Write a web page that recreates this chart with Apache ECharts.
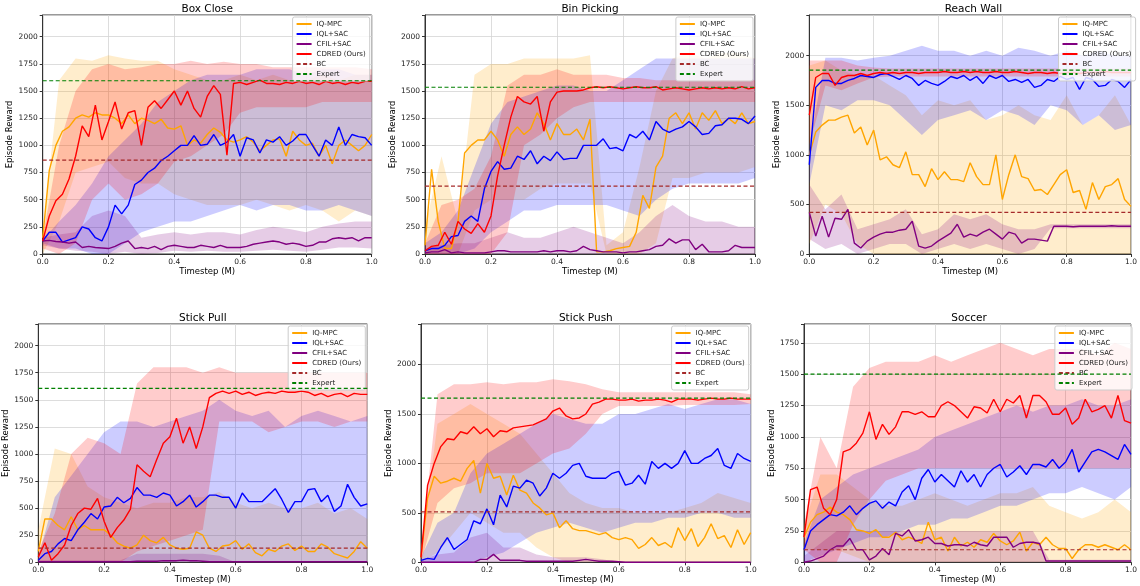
<!DOCTYPE html>
<html><head><meta charset="utf-8">
<script src="https://cdn.jsdelivr.net/npm/echarts@6/dist/echarts.min.js"></script>
<style>html,body{margin:0;padding:0;background:#fff}#chart{width:1140px;height:586px}</style>
</head><body><div id="chart"></div>
<script>
// ---------- DATA ----------
const T = [0,0.02,0.04,0.06,0.08,0.1,0.12,0.14,0.16,0.18,0.2,0.22,0.24,0.26,0.28,0.3,0.32,0.34,0.36,0.38,0.4,0.42,0.44,0.46,0.48,0.5,0.52,0.54,0.56,0.58,0.6,0.62,0.64,0.66,0.68,0.7,0.72,0.74,0.76,0.78,0.8,0.82,0.84,0.86,0.88,0.9,0.92,0.94,0.96,0.98,1];
const TB = [0,0.05,0.1,0.15,0.2,0.25,0.3,0.35,0.4,0.45,0.5,0.55,0.6,0.65,0.7,0.75,0.8,0.85,0.9,0.95,1];
const SERIES_NAMES = ['IQ-MPC','IQL+SAC','CFIL+SAC','CDRED (Ours)'];
const REF_NAMES = ['BC','Expert'];
const TITLES = ['Box Close','Bin Picking','Reach Wall','Stick Pull','Stick Push','Soccer'];
const BC_VALUES = [865,625,420,130,510,100];
const EXPERT_VALUES = [1595,1535,1855,1605,1660,1500];
const Z21 = [0,0,0,0,0,0,0,0,0,0,0,0,0,0,0,0,0,0,0,0,0];

// Box Close
const BOX_IQMPC = [150,770,1000,1130,1170,1250,1280,1260,1300,1280,1280,1250,1200,1280,1200,1250,1230,1200,1240,1160,1150,1180,1000,1050,1020,1100,1160,1120,1050,1030,1050,1080,1030,950,1000,1050,1060,900,1130,1050,1000,1020,900,1000,830,1000,1050,1000,950,1000,1100];
const BOX_IQLSAC = [120,200,200,110,130,150,250,230,150,120,250,450,370,450,640,680,750,790,860,900,950,1000,1000,1090,1000,1010,1100,1000,1030,1100,900,1070,1050,930,1050,1030,1080,1000,1040,1100,1100,1000,900,1050,1000,1170,1000,1100,1080,1070,1000];
const BOX_CFIL = [120,125,115,110,100,110,60,70,60,55,50,70,100,120,50,60,50,70,40,70,80,70,60,60,80,70,60,80,60,60,60,70,90,100,110,120,110,90,100,90,70,80,110,110,140,150,140,150,120,150,150];
const BOX_CDRED = [120,350,490,550,690,900,1180,1080,1370,1050,1220,1400,1150,1300,1320,1000,1350,1410,1340,1420,1500,1370,1500,1340,1260,1450,1550,1470,910,1570,1580,1560,1580,1600,1570,1570,1560,1580,1570,1590,1570,1580,1560,1590,1570,1580,1560,1580,1570,1590,1590];
const BOX_IQMPC_LO = [0,300,750,800,850,700,650,650,550,500,450,450,450,500,450,400,450,400,300,400,350];
const BOX_IQMPC_HI = [200,1600,1800,1780,1830,1800,1780,1780,1700,1650,1600,1600,1650,1600,1650,1600,1600,1650,1600,1650,1650];
const BOX_IQLSAC_LO = [100,50,50,0,0,100,200,250,300,300,350,400,450,400,450,450,400,400,450,400,350];
const BOX_IQLSAC_HI = [130,300,450,650,900,1050,1200,1400,1500,1600,1650,1650,1650,1700,1700,1700,1650,1700,1700,1650,1650];
const BOX_CFIL_LO = [80,50,30,20,0,20,0,10,30,20,30,20,20,30,40,30,20,40,60,60,50];
const BOX_CFIL_HI = [150,180,200,350,400,350,150,180,200,180,200,200,180,220,250,230,200,250,280,300,300];
const BOX_CDRED_LO = [50,0,100,500,650,500,550,650,850,900,1000,1100,1300,1350,1350,1350,1350,1400,1400,1400,1400];
const BOX_CDRED_HI = [150,1000,1500,1700,1750,1700,1720,1750,1750,1780,1750,1770,1750,1750,1720,1720,1720,1720,1720,1720,1700];

// Bin Picking
const BIN_IQMPC = [80,780,300,50,50,300,930,1000,1050,1050,1130,1050,900,1100,1170,1100,1150,1300,1200,1050,1200,1100,1100,1150,1050,1240,20,20,30,50,60,70,200,540,420,800,900,1250,1300,1200,1300,1150,1300,1230,1320,1200,1250,1200,1300,1200,1220];
const BIN_IQLSAC = [30,50,50,80,160,170,300,350,300,600,760,850,780,790,900,870,950,830,900,860,940,870,880,880,1000,1000,1000,1060,970,980,950,1100,1070,1130,1050,1220,1150,1120,1150,1170,1220,1170,1100,1110,1180,1190,1250,1250,1240,1200,1270];
const BIN_CFIL = [10,20,20,40,10,20,10,10,10,10,20,30,30,20,20,20,20,20,30,20,30,30,20,30,70,40,30,20,20,20,10,20,20,30,40,70,80,140,100,130,130,40,90,20,20,20,30,80,60,60,60];
const BIN_CDRED = [30,70,80,200,90,300,230,190,280,200,350,720,1000,1260,1450,1400,1380,1450,1130,1400,1490,1500,1500,1500,1510,1530,1540,1530,1540,1530,1520,1530,1540,1530,1530,1540,1510,1520,1530,1520,1510,1520,1530,1520,1530,1520,1530,1520,1540,1520,1530];
const BIN_IQMPC_LO = [0,0,0,400,500,500,500,600,650,650,650,0,0,0,100,700,700,750,750,750,800];
const BIN_IQMPC_HI = [250,900,300,1650,1750,1750,1800,1800,1800,1800,1830,80,200,800,1500,1800,1850,1800,1850,1850,1800];
const BIN_IQLSAC_LO = [0,0,0,50,200,300,400,400,450,450,450,450,400,350,500,600,650,650,650,650,700];
const BIN_IQLSAC_HI = [100,200,400,800,1200,1400,1450,1500,1550,1550,1500,1500,1600,1700,1800,1800,1800,1800,1800,1800,1800];
const BIN_CFIL_LO = Z21;
const BIN_CFIL_HI = [50,80,100,100,150,200,150,150,200,250,200,150,100,200,350,450,350,300,300,250,250];
const BIN_CDRED_LO = [0,0,0,0,0,200,1000,1100,1250,1350,1400,1400,1400,1400,1400,1400,1400,1400,1400,1400,1400];
const BIN_CDRED_HI = [100,450,500,600,900,1550,1650,1650,1700,1650,1650,1650,1620,1620,1600,1600,1600,1600,1600,1600,1600];

// Reach Wall
const RW_IQMPC = [1000,1230,1300,1350,1350,1380,1400,1220,1280,1100,1250,950,980,900,870,1030,800,800,680,860,750,830,750,750,730,920,780,700,700,1000,550,800,1000,780,760,640,650,600,700,800,850,620,640,450,720,550,680,700,760,550,480];
const RW_IQLSAC = [900,1680,1750,1750,1720,1720,1750,1770,1800,1790,1780,1810,1820,1790,1760,1800,1770,1700,1750,1720,1700,1740,1790,1770,1800,1750,1790,1720,1800,1770,1800,1740,1760,1730,1760,1680,1700,1760,1740,1790,1760,1780,1660,1780,1760,1690,1700,1760,1740,1680,1760];
const RW_CFIL = [420,180,380,170,360,350,450,110,60,130,170,200,220,220,240,250,330,80,60,80,130,170,210,300,170,200,180,220,250,200,150,220,200,110,150,150,140,130,280,280,280,275,280,280,280,280,280,285,280,280,280];
const RW_CDRED = [1400,1780,1820,1820,1700,1780,1800,1800,1820,1800,1820,1830,1820,1830,1820,1830,1830,1820,1830,1830,1830,1840,1830,1830,1840,1830,1840,1830,1830,1840,1830,1830,1840,1830,1820,1830,1830,1820,1830,1820,1830,1830,1820,1830,1830,1830,1840,1830,1830,1830,1830];
const RW_IQMPC_LO = [100,500,400,100,0,0,0,0,0,0,0,0,0,0,0,0,0,0,0,0,0];
const RW_IQMPC_HI = [1900,1950,1850,1800,1800,1700,1600,1400,1550,1500,1550,1350,1400,1500,1400,1350,1600,1300,1400,1600,1300];
const RW_IQLSAC_LO = [700,1500,1450,1550,1550,1500,1350,1200,1350,1400,1450,1350,1450,1400,1300,1500,1450,1300,1400,1250,1300];
const RW_IQLSAC_HI = [1100,1980,1980,1950,1980,2000,2050,2100,2050,2050,2000,2050,2000,2080,2050,2000,2050,2000,2050,2000,2000];
const RW_CFIL_LO = [150,50,100,0,50,100,100,0,50,100,50,100,50,0,50,260,260,260,260,260,260];
const RW_CFIL_HI = [700,450,600,250,300,350,450,200,250,400,350,400,300,250,250,300,300,300,300,300,300];
const RW_CDRED_LO = [1100,1700,1650,1720,1780,1790,1790,1790,1790,1790,1790,1790,1790,1790,1790,1790,1790,1790,1790,1790,1790];
const RW_CDRED_HI = [1950,1950,1950,1900,1880,1870,1870,1870,1870,1870,1870,1870,1870,1870,1870,1870,1870,1870,1870,1870,1870];

// Stick Pull
const SP_IQMPC = [100,400,400,340,300,420,300,340,300,300,300,250,180,150,130,160,250,200,180,230,160,130,120,130,280,250,130,100,150,160,200,120,170,90,60,120,100,150,170,110,150,100,100,170,140,80,60,40,100,190,130];
const SP_IQLSAC = [20,80,100,170,220,200,300,370,450,400,510,520,600,550,590,690,620,620,600,640,620,520,560,620,510,560,620,620,600,600,500,640,560,560,560,620,680,580,460,560,560,670,680,560,620,470,520,720,600,520,540];
const SP_CFIL = [5,5,5,5,5,5,5,5,5,5,5,5,5,5,5,10,10,10,10,15,15,15,20,15,15,10,5,5,5,5,5,5,5,5,5,5,5,5,5,5,5,5,5,5,5,5,5,5,5,5,5];
const SP_CDRED = [50,180,20,80,160,340,450,500,490,590,380,230,320,390,490,900,840,790,950,1100,1160,1330,1100,1250,1050,1250,1520,1560,1580,1560,1580,1550,1570,1540,1560,1570,1560,1580,1570,1570,1580,1570,1540,1560,1530,1550,1560,1530,1560,1550,1550];
const SP_IQMPC_LO = Z21;
const SP_IQMPC_HI = [300,1050,1000,700,600,550,500,550,550,600,600,650,550,500,550,500,500,550,450,500,400];
const SP_IQLSAC_LO = Z21;
const SP_IQLSAC_HI = [50,600,800,1000,1200,1300,1300,1250,1300,1350,1400,1500,1400,1350,1400,1250,1350,1400,1350,1300,1350];
const SP_CFIL_LO = Z21;
const SP_CFIL_HI = [20,20,20,20,20,20,80,80,80,80,80,60,0,0,0,0,0,0,0,0,0];
const SP_CDRED_LO = [0,0,0,0,0,0,100,150,200,250,300,1300,1300,1300,1200,1250,1300,1300,1250,1300,1300];
const SP_CDRED_HI = [100,450,1000,1150,1100,1000,1650,1800,1800,1800,1750,1800,1750,1750,1750,1750,1750,1750,1750,1750,1750];

// Stick Push
const SPU_IQMPC = [50,650,870,800,820,850,820,950,1030,700,1000,850,870,680,880,730,700,600,550,480,500,350,420,340,320,320,300,280,300,250,230,250,230,140,180,250,170,200,150,350,220,340,160,250,390,240,270,150,330,180,300];
const SPU_IQLSAC = [20,40,30,150,250,130,180,230,420,390,540,380,680,560,770,750,830,800,670,750,900,850,900,980,1000,870,850,850,850,900,920,780,800,880,790,1020,950,1000,950,1000,1130,1000,1000,1050,1080,1150,980,950,1100,1050,1020];
const SPU_CFIL = [0,0,0,0,0,0,0,0,0,30,30,80,20,20,20,20,10,10,10,10,10,10,10,10,20,30,20,10,10,10,5,0,0,0,0,0,0,0,0,0,0,0,0,0,0,0,0,0,0,0,0];
const SPU_CDRED = [50,780,1000,1170,1250,1240,1320,1300,1370,1300,1350,1270,1330,1320,1360,1370,1380,1390,1420,1450,1530,1560,1480,1450,1460,1500,1600,1620,1650,1650,1640,1640,1650,1630,1640,1640,1650,1640,1620,1650,1650,1650,1640,1650,1660,1650,1650,1660,1650,1650,1650];
const SPU_IQMPC_LO = [0,100,300,500,400,300,300,150,50,0,0,0,0,0,0,0,0,0,0,0,0];
const SPU_IQMPC_HI = [100,1400,1500,1600,1500,1400,1300,1100,900,700,600,550,550,500,500,500,550,600,700,650,600];
const SPU_IQLSAC_LO = [0,0,0,0,50,100,200,300,350,400,350,300,350,400,400,450,450,500,500,450,450];
const SPU_IQLSAC_HI = [50,400,500,900,1100,1200,1300,1400,1500,1450,1400,1400,1500,1500,1550,1600,1550,1600,1650,1650,1600];
const SPU_CFIL_LO = Z21;
const SPU_CFIL_HI = [20,80,100,250,300,150,150,80,50,50,50,30,0,0,0,0,0,0,0,0,0];
const SPU_CDRED_LO = [0,600,750,800,900,900,900,1000,1100,1150,1300,1500,1580,1580,1580,1580,1590,1590,1590,1590,1600];
const SPU_CDRED_HI = [100,1700,1800,1800,1820,1800,1820,1820,1850,1830,1800,1750,1720,1720,1720,1720,1720,1720,1720,1720,1700];

// Soccer
const SOC_IQMPC = [200,320,380,400,440,400,380,340,260,250,230,260,200,200,240,180,200,180,150,320,180,200,90,200,130,160,120,180,160,230,170,140,170,240,90,160,140,200,140,110,110,30,100,140,140,120,140,120,100,140,100];
const SOC_IQLSAC = [100,250,300,340,380,370,400,450,380,430,470,490,430,480,450,560,610,500,670,740,640,700,650,600,730,640,700,600,700,750,780,680,720,770,700,780,780,760,820,750,800,900,720,800,880,900,880,850,820,940,860];
const SOC_CFIL = [0,10,30,50,100,130,130,190,100,100,20,50,110,60,230,210,260,170,180,200,150,150,130,140,140,130,160,140,130,200,200,200,120,150,160,160,150,10,10,10,10,10,10,10,10,10,10,10,10,10,10];
const SOC_CDRED = [200,580,600,430,380,500,880,900,950,1030,1200,980,1100,1020,1080,1200,1200,1180,1200,1160,1160,1250,1280,1250,1200,1150,1240,1230,1190,1300,1200,1300,1270,1330,1150,1330,1330,1280,1180,1180,1230,1100,1150,1300,1200,1220,1250,1150,1330,1130,1110];
const SOC_IQMPC_LO = [100,100,100,50,0,0,0,0,0,0,0,0,0,0,0,0,0,0,0,0,0];
const SOC_IQMPC_HI = [300,700,700,600,500,450,450,500,550,500,450,500,550,550,600,450,400,350,400,500,400];
const SOC_IQLSAC_LO = [0,50,100,150,200,200,250,300,300,350,350,400,450,450,500,550,550,600,550,500,600];
const SOC_IQLSAC_HI = [150,500,600,700,750,800,850,900,1000,1050,1100,1150,1200,1250,1200,1250,1250,1300,1250,1250,1300];
const SOC_CFIL_LO = Z21;
const SOC_CFIL_HI = [50,150,250,250,250,250,250,250,250,250,250,250,250,250,250,20,20,20,20,20,20];
const SOC_CDRED_LO = [100,0,0,300,500,650,700,750,750,750,750,750,750,750,750,750,750,750,750,750,750];
const SOC_CDRED_HI = [300,1000,750,1400,1550,1600,1600,1600,1650,1600,1650,1700,1750,1700,1650,1700,1700,1700,1650,1750,1700];

// ---------- ASSEMBLY ----------
const PANELS = [
  {mean:[BOX_IQMPC,BOX_IQLSAC,BOX_CFIL,BOX_CDRED], lo:[BOX_IQMPC_LO,BOX_IQLSAC_LO,BOX_CFIL_LO,BOX_CDRED_LO], hi:[BOX_IQMPC_HI,BOX_IQLSAC_HI,BOX_CFIL_HI,BOX_CDRED_HI]},
  {mean:[BIN_IQMPC,BIN_IQLSAC,BIN_CFIL,BIN_CDRED], lo:[BIN_IQMPC_LO,BIN_IQLSAC_LO,BIN_CFIL_LO,BIN_CDRED_LO], hi:[BIN_IQMPC_HI,BIN_IQLSAC_HI,BIN_CFIL_HI,BIN_CDRED_HI]},
  {mean:[RW_IQMPC,RW_IQLSAC,RW_CFIL,RW_CDRED], lo:[RW_IQMPC_LO,RW_IQLSAC_LO,RW_CFIL_LO,RW_CDRED_LO], hi:[RW_IQMPC_HI,RW_IQLSAC_HI,RW_CFIL_HI,RW_CDRED_HI]},
  {mean:[SP_IQMPC,SP_IQLSAC,SP_CFIL,SP_CDRED], lo:[SP_IQMPC_LO,SP_IQLSAC_LO,SP_CFIL_LO,SP_CDRED_LO], hi:[SP_IQMPC_HI,SP_IQLSAC_HI,SP_CFIL_HI,SP_CDRED_HI]},
  {mean:[SPU_IQMPC,SPU_IQLSAC,SPU_CFIL,SPU_CDRED], lo:[SPU_IQMPC_LO,SPU_IQLSAC_LO,SPU_CFIL_LO,SPU_CDRED_LO], hi:[SPU_IQMPC_HI,SPU_IQLSAC_HI,SPU_CFIL_HI,SPU_CDRED_HI]},
  {mean:[SOC_IQMPC,SOC_IQLSAC,SOC_CFIL,SOC_CDRED], lo:[SOC_IQMPC_LO,SOC_IQLSAC_LO,SOC_CFIL_LO,SOC_CDRED_LO], hi:[SOC_IQMPC_HI,SOC_IQLSAC_HI,SOC_CFIL_HI,SOC_CDRED_HI]}
];

const LAYOUT = [
  {left:42.7, top:15, width:329, height:239, yMax:2200, yStep:250},
  {left:425, top:15, width:330, height:239, yMax:2200, yStep:250},
  {left:809.3, top:15, width:328.3, height:239, yMax:2410, yStep:500},
  {left:38.3, top:324, width:329, height:238.3, yMax:2200, yStep:250},
  {left:421, top:324, width:329.7, height:238.3, yMax:2410, yStep:500},
  {left:804, top:324, width:330, height:238.3, yMax:1900, yStep:250}
];
const COLORS = ['#FFA500','#0000FF','#800080','#FF0000'];
const BAND_COLORS = ['rgba(255,165,0,0.2)','rgba(0,0,255,0.2)','rgba(128,0,128,0.2)','rgba(255,0,0,0.2)'];
const REF_COLORS = ['#A52A2A','#008000'];
const FONT = 'DejaVu Sans';

const grid=[], xAxis=[], yAxis=[], series=[], title=[], legend=[];
PANELS.forEach((p,i)=>{
  const L = LAYOUT[i];
  grid.push({left:L.left, top:L.top, width:L.width, height:L.height, show:true, borderColor:'#333', borderWidth:1, containLabel:false});
  title.push({text:TITLES[i], left:L.left+L.width/2, top:L.top-11.5, textAlign:'center', padding:0,
    textStyle:{fontSize:10.5, fontWeight:'normal', color:'#000', fontFamily:FONT}});
  xAxis.push({gridIndex:i, type:'value', min:0, max:1, interval:0.2,
    name:'Timestep (M)', nameLocation:'middle', nameGap:12,
    nameTextStyle:{fontSize:8.5, color:'#000', fontFamily:FONT},
    axisLine:{show:true, lineStyle:{color:'#333', width:1}},
    axisTick:{show:true, length:3, lineStyle:{color:'#333'}},
    axisLabel:{fontSize:7.5, color:'#222', margin:4, fontFamily:FONT, formatter:v=>v.toFixed(1)},
    splitLine:{show:true, lineStyle:{color:'#d4d4d4', width:0.8}}});
  yAxis.push({gridIndex:i, type:'value', min:0, max:L.yMax, interval:L.yStep,
    name:'Episode Reward', nameLocation:'middle', nameGap:19,
    nameTextStyle:{fontSize:8.5, color:'#000', fontFamily:FONT},
    axisLine:{show:true, lineStyle:{color:'#333', width:1}},
    axisTick:{show:true, length:3, lineStyle:{color:'#333'}},
    axisLabel:{fontSize:7.5, color:'#222', margin:5, fontFamily:FONT,
      formatter:v=> (Math.abs(v % L.yStep) < 1e-6 ? String(v) : '')},
    splitLine:{show:true, lineStyle:{color:'#d4d4d4', width:0.8}}});
  legend.push({data:SERIES_NAMES.concat(REF_NAMES), orient:'vertical',
    right: 1140 - (L.left + L.width) + 2, top: L.top + 2,
    itemWidth:15, itemHeight:8, itemGap:2, padding:[3,4,3,3],
    backgroundColor:'rgba(255,255,255,0.8)', borderColor:'#cccccc', borderWidth:1, borderRadius:2,
    selectedMode:false, itemStyle:{opacity:0},
    textStyle:{fontSize:7, color:'#222', fontFamily:FONT, lineHeight:8}});
  // bands
  for (let m=0;m<4;m++){
    const lo = p.lo[m], hi = p.hi[m];
    series.push({type:'custom', name:SERIES_NAMES[m]+' band', xAxisIndex:i, yAxisIndex:i,
      data: TB.map((t,k)=>[t, lo[k], hi[k]]), encode:{x:0, y:[1,2]},
      silent:true, z:1, clip:true, animation:false,
      renderItem:(params, api)=>{
        if (params.dataIndex !== 0) return null;
        const pts=[];
        for (let k=0;k<TB.length;k++) pts.push(api.coord([TB[k], hi[k]]));
        for (let k=TB.length-1;k>=0;k--) pts.push(api.coord([TB[k], lo[k]]));
        return {type:'polygon', shape:{points:pts}, style:{fill:BAND_COLORS[m]}};
      }});
  }
  // means
  for (let m=0;m<4;m++){
    series.push({type:'line', name:SERIES_NAMES[m], xAxisIndex:i, yAxisIndex:i,
      data: T.map((t,k)=>[t, p.mean[m][k]]), symbol:'none', silent:true, z:3, animation:false,
      lineStyle:{color:COLORS[m], width:1.4}, itemStyle:{color:COLORS[m]}});
  }
  // reference lines
  [BC_VALUES[i], EXPERT_VALUES[i]].forEach((v,r)=>{
    series.push({type:'line', name:REF_NAMES[r], xAxisIndex:i, yAxisIndex:i,
      data:[[0,v],[1,v]], symbol:'none', silent:true, z:4, animation:false,
      lineStyle:{color:REF_COLORS[r], width:1.2, type:[4,2.5]}, itemStyle:{color:REF_COLORS[r]}});
  });
});

const chart = echarts.init(document.getElementById('chart'), null, {renderer:'canvas'});
chart.setOption({animation:false, backgroundColor:'#fff', textStyle:{fontFamily:FONT},
  title, legend, grid, xAxis, yAxis, series});
</script></body></html>
